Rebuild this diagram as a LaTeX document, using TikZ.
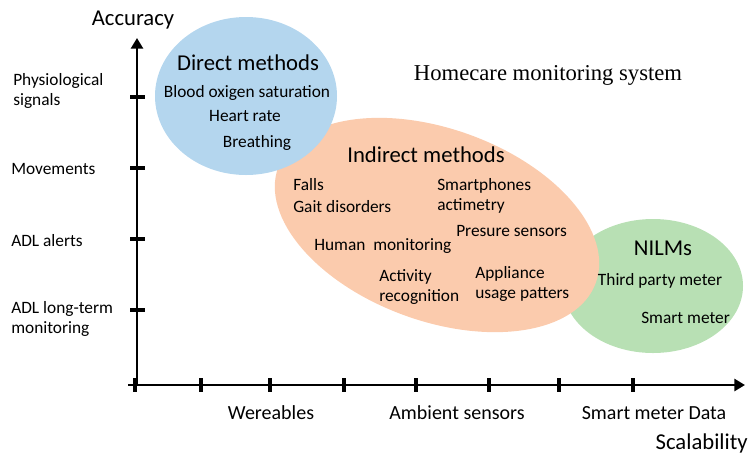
\documentclass[tikz,border=0pt]{standalone}
\usepackage{fontspec}
\setmainfont{Carlito}
\newfontfamily\homefont{Liberation Serif}
\usetikzlibrary{arrows.meta}
\definecolor{directblue}{RGB}{180,214,238}
\definecolor{indirectorange}{RGB}{251,203,173}
\definecolor{nilmgreen}{RGB}{184,224,180}
\tikzset{
  axis/.style={line width=2pt, -{Triangle[length=8pt,width=9pt]}},
  tick/.style={line width=3pt},
  item/.style={font=\fontsize{13}{15}\selectfont, inner sep=0pt, align=left},
  xlabel/.style={font=\fontsize{15}{18}\selectfont, inner sep=0pt},
  title/.style={font=\fontsize{17}{20}\selectfont, inner sep=0pt}
}
\begin{document}
\begin{tikzpicture}[x=0.75pt, y=-0.75pt]
\useasboundingbox (0,0) rectangle (748,454);
% groups
\fill [nilmgreen] (653,286) ellipse [x radius=90, y radius=67];
\fill [indirectorange, rotate around={-20:(437,225)}] (437,225) ellipse [x radius=169, y radius=96];
\fill [directblue] (246,96) ellipse [x radius=91, y radius=79];
% axes
\coordinate (origin) at (137,385);
\coordinate (ytop) at (137,38);
\coordinate (xstart) at (128,385);
\coordinate (xend) at (745,385);
\draw [axis] (origin) -- (ytop);
\draw [axis] (xstart) -- (xend);
\foreach \y in {97,168,239,310}
  \draw [tick] (130,\y) -- (145,\y);
\foreach \x in {135,201,270,344,416,489,559,633}
  \draw [tick] (\x,378) -- (\x,392);
\node [title] (accuracy) at (133,20) {Accuracy};
\node [title, anchor=east] (scalability) at (748,443) {Scalability};
% y labels
\node [item, anchor=west] (physio) at (13,91) {Physiological\\signals};
\node [item, anchor=west] (movements) at (11,169) {Movements};
\node [item, anchor=west] (alerts) at (11,241) {ADL alerts};
\node [item, anchor=west] (longterm) at (11,319) {ADL long-term\\monitoring};
% x labels
\node [xlabel] (wearables) at (271,413) {Wereables};
\node [xlabel] (ambient) at (457,413) {Ambient sensors};
\node [xlabel] (smartdata) at (654,413) {Smart meter Data};
\node [font=\homefont\fontsize{17}{20}\selectfont, inner sep=0pt] (homecare) at (548,75) {Homecare monitoring system};
% direct
\node [title] (direct) at (248,63) {Direct methods};
\node [item] (blood) at (247,93) {Blood oxigen saturation};
\node [item] (heart) at (245,116) {Heart rate};
\node [item] (breathing) at (257,143) {Breathing};
% indirect
\node [title] (indirect) at (426,155) {Indirect methods};
\node [item, anchor=west] (falls) at (293,185) {Falls};
\node [item, anchor=west] (gait) at (293,207) {Gait disorders};
\node [item, anchor=west] (smartphones) at (437,196) {Smartphones\\actimetry};
\node [item, anchor=west] (presure) at (456,231) {Presure sensors};
\node [item, anchor=west] (human) at (314,246) {Human\ \ monitoring};
\node [item, anchor=west] (activity) at (379,287) {Activity\\recognition};
\node [item, anchor=west] (appliance) at (475,284) {Appliance\\usage patters};
% nilm
\node [title] (nilms) at (663,248) {NILMs};
\node [item] (thirdparty) at (660,281) {Third party meter};
\node [item, anchor=west] (smartmeter) at (641,318) {Smart meter};
\end{tikzpicture}
\end{document}
